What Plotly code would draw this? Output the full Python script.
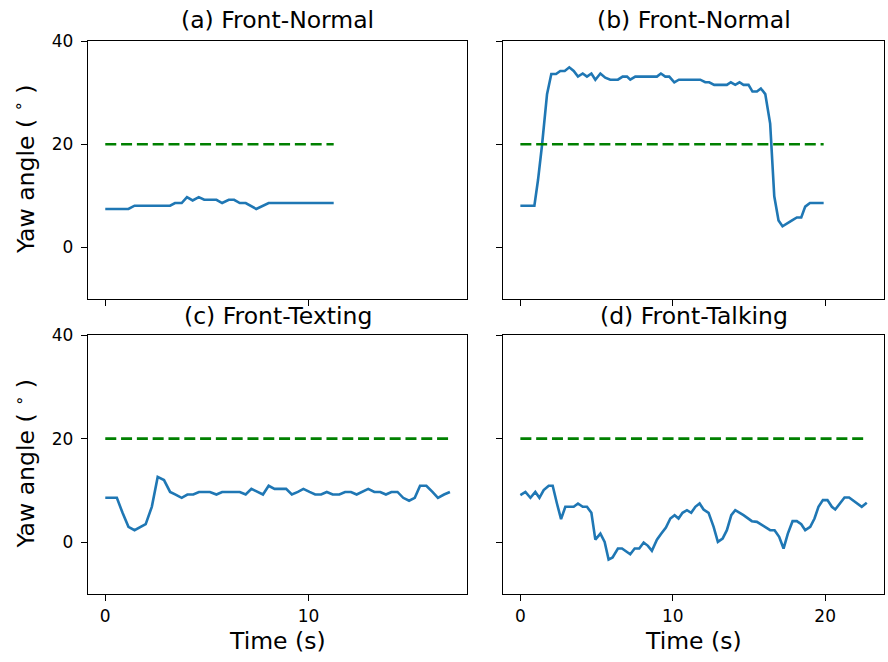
import plotly.graph_objects as go

# ---------------- data ----------------
titles = ["(a) Front-Normal", "(b) Front-Normal", "(c) Front-Texting", "(d) Front-Talking"]
threshold = 20

a_t = [0, 1.14, 1.44, 3.19, 3.43, 3.76, 4.02, 4.3, 4.6, 4.87, 5.47, 5.75, 6.08, 6.34, 6.62, 6.91, 7.43, 8.04, 11.24]
a_y = [7.44, 7.44, 8.08, 8.08, 8.6, 8.6, 9.74, 9.1, 9.74, 9.23, 9.23, 8.6, 9.23, 9.23, 8.6, 8.6, 7.44, 8.6, 8.6]

b_t = [0, 0.92, 1.16, 1.42, 1.75, 2.03, 2.34, 2.62, 2.91, 3.21, 3.5, 3.78, 4.09, 4.37, 4.66, 4.92, 5.25,
       5.57, 5.9, 6.4, 6.71, 7.0, 7.21, 7.54, 8.96, 9.22, 9.51, 9.77, 10.1, 10.4, 11.8, 12.13, 12.39,
       12.72, 13.55, 13.81, 14.1, 14.38, 14.64, 14.97, 15.23, 15.52, 15.78, 16.07, 16.39, 16.66, 16.94,
       17.2, 17.8, 18.14, 18.43, 18.69, 19.0, 19.9]
b_y = [8.08, 8.08, 13.1, 19.8, 29.7, 33.6, 33.6, 34.2, 34.2, 34.9, 34.2, 33.1, 33.7, 33.1, 33.7, 32.5, 33.7,
       32.9, 32.5, 32.5, 33.1, 33.1, 32.5, 33.1, 33.1, 33.7, 33.1, 33.1, 32.0, 32.5, 32.5, 32.0, 32.0,
       31.5, 31.5, 32.0, 31.5, 32.0, 31.5, 31.5, 30.2, 30.2, 30.8, 29.7, 24.0, 9.9, 5.2,
       4.1, 5.2, 5.8, 5.8, 7.9, 8.6, 8.6]

c_t = [0, 0.57, 0.85, 1.14, 1.44, 1.72, 1.99, 2.29, 2.58, 2.89, 3.19, 3.46, 3.76, 4.04, 4.33, 4.61, 5.15,
       5.47, 5.75, 6.62, 6.91, 7.19, 7.48, 7.76, 8.04, 8.33, 8.9, 9.18, 9.48, 9.75, 10.05, 10.33, 10.62,
       10.9, 11.19, 11.52, 11.8, 12.09, 12.37, 12.66, 12.94, 13.24, 13.53, 13.81, 14.08, 14.38, 14.66,
       14.95, 15.23, 15.49, 15.8, 16.1, 16.37, 16.67, 16.96]
c_y = [8.57, 8.57, 5.67, 2.96, 2.32, 2.96, 3.48, 6.83, 12.6, 12.0, 9.7, 9.2, 8.57, 9.2, 9.2, 9.7, 9.7,
       9.2, 9.7, 9.7, 9.2, 10.3, 9.7, 9.2, 10.9, 10.3, 10.3, 9.2, 9.7, 10.3, 9.7, 9.2, 9.2,
       9.7, 9.2, 9.2, 9.7, 9.7, 9.2, 9.7, 10.3, 9.7, 9.7, 9.2, 9.7, 9.7, 8.57,
       8.0, 8.57, 10.9, 10.9, 9.7, 8.57, 9.2, 9.7]

d_t = [0, 0.33, 0.66, 0.98, 1.25, 1.53, 1.86, 2.12, 2.4, 2.67, 2.95, 3.5, 3.78, 4.09, 4.37, 4.66, 4.92,
       5.25, 5.53, 5.79, 6.05, 6.4, 6.67, 6.95, 7.21, 7.5, 7.8, 8.09, 8.37, 8.63, 8.96, 9.25, 9.55, 9.84,
       10.12, 10.38, 10.64, 10.93, 11.21, 11.48, 11.76, 12.02, 12.35, 12.68, 12.96, 13.27, 13.55, 13.84,
       14.1, 14.64, 15.19, 15.52, 16.07, 16.39, 16.68, 16.98, 17.27, 17.55, 17.86, 18.14, 18.43, 18.69,
       19.02, 19.3, 19.56, 19.85, 20.15, 20.44, 20.66, 20.98, 21.27, 21.57, 22.4, 22.73]
d_y = [9.1, 9.7, 8.57, 9.7, 8.57, 10.05, 10.9, 10.9, 7.47, 4.44, 6.83, 6.83, 7.47, 6.83, 6.83, 5.67, 0.5,
       1.67, 0.06, -3.35, -2.96, -1.22, -1.22, -1.87, -2.32, -1.22, -1.22, -0.06, -0.7, -1.67, 0.5, 1.67, 2.83, 4.57,
       5.22, 4.57, 5.67, 6.18, 5.67, 6.83, 7.47, 6.31, 5.67, 2.96, 0.06, 0.7, 2.32, 5.22,
       6.18, 5.22, 4.06, 3.93, 2.96, 2.32, 2.32, 1.03, -1.22, 1.67, 4.06, 4.06, 3.48, 2.32,
       2.96, 4.57, 6.83, 8.12, 8.12, 6.83, 6.31, 7.47, 8.63, 8.63, 6.83, 7.6]

x_ticks_left = [0, 10]
x_ticks_right = [0, 10, 20]
y_ticks = [0, 20, 40]
x_range_left = [-0.85, 17.8]
x_range_right = [-1.14, 23.86]
y_range = [-10, 40]

# ---------------- style ----------------
W, H = 888, 662
FONT = "DejaVu Sans"
BLUE = "#1f77b4"
GREEN = "#008000"


def py(y_screen):
    """paper fraction for a target screen pixel row"""
    return 1 - y_screen / H


# panel pixel boxes (left, top, right, bottom) and title centre rows
boxes = [(88, 41, 467, 299), (503, 41, 884, 299), (88, 335, 467, 594), (503, 335, 884, 594)]
title_rows = [20, 20, 316, 316]

series = [(a_t, a_y), (b_t, b_y), (c_t, c_y), (d_t, d_y)]

fig = go.Figure()
layout = dict(
    width=W, height=H, margin=dict(l=0, r=0, t=0, b=0, pad=0, autoexpand=False),
    paper_bgcolor="white", plot_bgcolor="white", showlegend=False,
    font=dict(family=FONT, color="black", size=17),
)

annotations = []
for i, ((t, y), box) in enumerate(zip(series, boxes)):
    k = "" if i == 0 else str(i + 1)
    xa, ya = "x" + k, "y" + k
    fig.add_trace(go.Scatter(x=t, y=y, mode="lines", xaxis=xa, yaxis=ya,
                             line=dict(color=BLUE, width=2.6)))
    fig.add_trace(go.Scatter(x=[t[0], t[-1]], y=[threshold, threshold], mode="lines",
                             xaxis=xa, yaxis=ya,
                             line=dict(color=GREEN, width=2.6, dash="11px,4.8px")))
    l, tp, r, b = box
    col = i % 2
    row = i // 2
    layout["xaxis" + k] = dict(
        domain=[l / W, r / W], anchor=ya,
        range=x_range_left if col == 0 else x_range_right,
        tickvals=x_ticks_left if col == 0 else x_ticks_right,
        showticklabels=(row == 1), ticks="outside", ticklen=6, tickwidth=1.3,
        tickcolor="black", showline=True, linecolor="black", linewidth=1.3, mirror=True,
        showgrid=False, zeroline=False, tickfont=dict(size=17),
    )
    layout["yaxis" + k] = dict(
        domain=[py(b), py(tp)], anchor=xa,
        range=y_range, tickvals=y_ticks,
        showticklabels=(col == 0), ticks="outside", ticklen=6, tickwidth=1.3,
        tickcolor="black", showline=True, linecolor="black", linewidth=1.3, mirror=True,
        showgrid=False, zeroline=False, tickfont=dict(size=17), ticklabelstandoff=4,
    )
    annotations.append(dict(text=titles[i], xref="paper", yref="paper",
                            x=(l + r) / 2 / W, y=py(title_rows[i]), xanchor="center", yanchor="middle",
                            showarrow=False, font=dict(size=23.5, family=FONT)))
    if row == 1:
        annotations.append(dict(text="Time (s)", xref="paper", yref="paper",
                                x=(l + r) / 2 / W, y=py(641), xanchor="center", yanchor="middle",
                                showarrow=False, font=dict(size=23.5, family=FONT)))
    if col == 0:
        annotations.append(dict(text="Yaw angle ( <sup>∘</sup> )", xref="paper", yref="paper",
                                x=25 / W, y=py((tp + b) / 2), xanchor="center", yanchor="middle",
                                textangle=-90, showarrow=False, font=dict(size=23.5, family=FONT)))

layout["annotations"] = annotations
fig.update_layout(**layout)
fig.write_html("out.html")
